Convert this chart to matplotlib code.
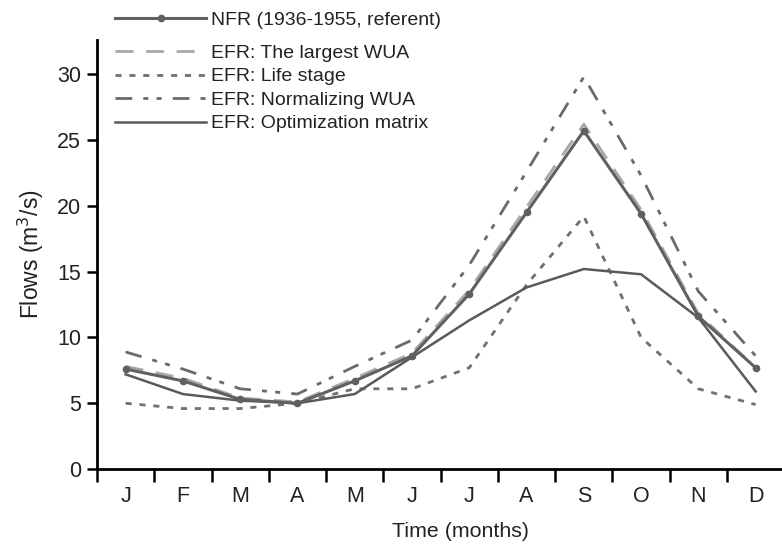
import matplotlib
matplotlib.use("Agg")
from matplotlib import pyplot as plt
import numpy as np

plt.rcParams["font.family"] = ["Liberation Sans", "DejaVu Sans"]

months = ["J", "F", "M", "A", "M", "J", "J", "A", "S", "O", "N", "D"]
nfr = [7.6, 6.7, 5.3, 5.0, 6.7, 8.6, 13.3, 19.5, 25.7, 19.4, 11.6, 7.7]
largest_wua = [7.8, 6.9, 5.4, 5.1, 6.9, 8.8, 13.6, 19.9, 26.2, 19.7, 11.8, 7.7]
life_stage = [5.0, 4.6, 4.6, 5.0, 6.1, 6.1, 7.7, 14.0, 19.2, 10.0, 6.1, 4.9]
normalizing = [8.9, 7.6, 6.1, 5.7, 7.8, 9.8, 15.5, 22.6, 29.8, 22.3, 13.5, 8.6]
optimization = [7.2, 5.7, 5.2, 5.0, 5.7, 8.5, 11.3, 13.8, 15.2, 14.8, 11.5, 5.9]

labels = ["NFR (1936-1955, referent)", "EFR: The largest WUA", "EFR: Life stage",
          "EFR: Normalizing WUA", "EFR: Optimization matrix"]

fig = plt.figure(figsize=(7.82, 5.48), dpi=100)
ax = fig.add_axes([0.124, 0.144, 0.876, 0.783])

x = np.arange(len(months)) + 0.5

l_nfr, = ax.plot(x, nfr, color="#606060", lw=2.2, marker="o", ms=4.5, zorder=5)
l_big, = ax.plot(x, largest_wua, color="#a8a8a8", lw=2.0, dashes=(6.5, 4.5), zorder=4)
l_life, = ax.plot(x, life_stage, color="#707070", lw=2.0, dashes=(2.2, 2.8), zorder=3)
l_norm, = ax.plot(x, normalizing, color="#6a6a6a", lw=2.0, dashes=(6, 4, 1.8, 3, 1.8, 4), zorder=3)
l_opt, = ax.plot(x, optimization, color="#5a5a5a", lw=1.8, zorder=4)

ax.set_xlim(0, 11.96)
ax.set_ylim(0, 32.6)
ax.set_yticks([0, 5, 10, 15, 20, 25, 30])
ax.set_xticks(np.arange(0, 12))
ax.set_xticklabels([])
ax.set_xticks(x, minor=True)
ax.set_xticklabels(months, minor=True)
ax.tick_params(axis="x", which="major", direction="out", length=9, width=1.8)
ax.tick_params(axis="x", which="minor", length=0, pad=12, labelsize=15.5, labelcolor="#222222")
ax.tick_params(axis="y", direction="out", length=7.5, width=1.8, labelsize=15.5, pad=4,
               labelcolor="#222222")
ax.spines["top"].set_visible(False)
ax.spines["right"].set_visible(False)
ax.spines["left"].set_linewidth(2)
ax.spines["bottom"].set_linewidth(2)

ax.set_xlabel("Time (months)", fontsize=15.4, color="#222222")
ax.xaxis.set_label_coords(0.53, -0.124)
ax.set_ylabel("Flows (m$^3$/s)", fontsize=16.5, color="#222222", labelpad=8)

leg1 = fig.legend([l_nfr], labels[:1], loc="upper left", bbox_to_anchor=(0.147, 0.979),
                  frameon=False, fontsize=14, handlelength=4.7, handletextpad=0.26,
                  borderaxespad=0, borderpad=0)
for t in leg1.get_texts():
    t.set_color("#222222")
leg2 = fig.legend([l_big, l_life, l_norm, l_opt], labels[1:], loc="upper left",
                  bbox_to_anchor=(0.147, 0.919), frameon=False, fontsize=14,
                  handlelength=4.7, handletextpad=0.26, labelspacing=0.3,
                  borderaxespad=0, borderpad=0)
for t in leg2.get_texts():
    t.set_color("#222222")

fig.savefig("out.png", dpi=100)
